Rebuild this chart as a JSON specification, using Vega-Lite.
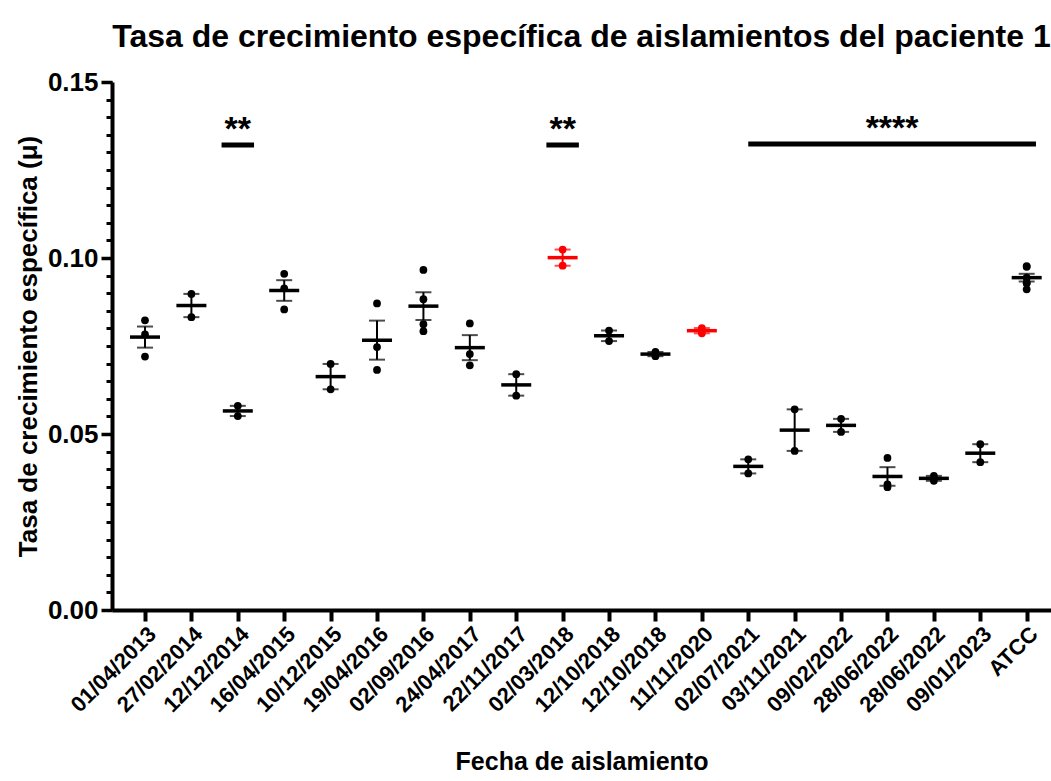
{
  "$schema": "https://vega.github.io/schema/vega-lite/v6.json",
  "width": 939,
  "height": 528,
  "autosize": {"type": "none"},
  "padding": {"left": 112, "top": 82, "right": 0, "bottom": 171},
  "background": "white",
  "config": {
    "view": {"stroke": null},
    "font": "Liberation Sans",
    "axis": {"grid": false, "domainColor": "black", "tickColor": "black", "labelColor": "black", "titleColor": "black", "labelFont": "Liberation Sans", "titleFont": "Liberation Sans", "labelFontWeight": "bold", "titleFontWeight": "bold"}
  },
  "title": {
    "text": "Tasa de crecimiento específica de aislamientos del paciente 1",
    "font": "Liberation Sans",
    "fontSize": 32,
    "fontWeight": "bold",
    "color": "black",
    "anchor": "middle",
    "offset": 15
  },
  "datasets": {
    "mu": [
      {"id": 1, "fecha": "01/04/2013", "mu": 0.0823}, {"id": 1, "fecha": "01/04/2013", "mu": 0.0783}, {"id": 1, "fecha": "01/04/2013", "mu": 0.0720},
      {"id": 2, "fecha": "27/02/2014", "mu": 0.0898}, {"id": 2, "fecha": "27/02/2014", "mu": 0.0832},
      {"id": 3, "fecha": "12/12/2014", "mu": 0.0580}, {"id": 3, "fecha": "12/12/2014", "mu": 0.0551},
      {"id": 4, "fecha": "16/04/2015", "mu": 0.0955}, {"id": 4, "fecha": "16/04/2015", "mu": 0.0914}, {"id": 4, "fecha": "16/04/2015", "mu": 0.0854},
      {"id": 5, "fecha": "10/12/2015", "mu": 0.0699}, {"id": 5, "fecha": "10/12/2015", "mu": 0.0627},
      {"id": 6, "fecha": "19/04/2016", "mu": 0.0871}, {"id": 6, "fecha": "19/04/2016", "mu": 0.0747}, {"id": 6, "fecha": "19/04/2016", "mu": 0.0682},
      {"id": 7, "fecha": "02/09/2016", "mu": 0.0966}, {"id": 7, "fecha": "02/09/2016", "mu": 0.0883}, {"id": 7, "fecha": "02/09/2016", "mu": 0.0812}, {"id": 7, "fecha": "02/09/2016", "mu": 0.0792},
      {"id": 8, "fecha": "24/04/2017", "mu": 0.0814}, {"id": 8, "fecha": "24/04/2017", "mu": 0.0727}, {"id": 8, "fecha": "24/04/2017", "mu": 0.0695},
      {"id": 9, "fecha": "22/11/2017", "mu": 0.0670}, {"id": 9, "fecha": "22/11/2017", "mu": 0.0609},
      {"id": 10, "fecha": "02/03/2018", "mu": 0.1024}, {"id": 10, "fecha": "02/03/2018", "mu": 0.0978},
      {"id": 11, "fecha": "12/10/2018", "mu": 0.0794}, {"id": 11, "fecha": "12/10/2018", "mu": 0.0764},
      {"id": 12, "fecha": "12/10/2018", "mu": 0.0733}, {"id": 12, "fecha": "12/10/2018", "mu": 0.0721},
      {"id": 13, "fecha": "11/11/2020", "mu": 0.0801}, {"id": 13, "fecha": "11/11/2020", "mu": 0.0786},
      {"id": 14, "fecha": "02/07/2021", "mu": 0.0428}, {"id": 14, "fecha": "02/07/2021", "mu": 0.0388},
      {"id": 15, "fecha": "03/11/2021", "mu": 0.0570}, {"id": 15, "fecha": "03/11/2021", "mu": 0.0452},
      {"id": 16, "fecha": "09/02/2022", "mu": 0.0543}, {"id": 16, "fecha": "09/02/2022", "mu": 0.0506},
      {"id": 17, "fecha": "28/06/2022", "mu": 0.0432}, {"id": 17, "fecha": "28/06/2022", "mu": 0.0357}, {"id": 17, "fecha": "28/06/2022", "mu": 0.0349},
      {"id": 18, "fecha": "28/06/2022", "mu": 0.0381}, {"id": 18, "fecha": "28/06/2022", "mu": 0.0367},
      {"id": 19, "fecha": "09/01/2023", "mu": 0.0471}, {"id": 19, "fecha": "09/01/2023", "mu": 0.0420},
      {"id": 20, "fecha": "ATCC", "mu": 0.0975}, {"id": 20, "fecha": "ATCC", "mu": 0.0977}, {"id": 20, "fecha": "ATCC", "mu": 0.0930}, {"id": 20, "fecha": "ATCC", "mu": 0.0928}, {"id": 20, "fecha": "ATCC", "mu": 0.0911}, {"id": 20, "fecha": "ATCC", "mu": 0.0944}
    ],
    "signif": [
      {"desde": 2.65, "hasta": 3.35, "nivel": 0.1321, "texto": "**"},
      {"desde": 9.65, "hasta": 10.35, "nivel": 0.1321, "texto": "**"},
      {"desde": 14.0, "hasta": 20.2, "nivel": 0.1324, "texto": "****"}
    ]
  },
  "resolve": {"scale": {"y": "independent"}, "axis": {"y": "independent"}},
  "layer": [
    {
      "data": {"name": "mu"},
      "mark": {"type": "errorbar", "extent": "stderr", "orient": "vertical", "thickness": 2, "ticks": {"size": 16, "thickness": 2}},
      "encoding": {
        "x": {"field": "id", "type": "quantitative", "scale": {"domain": [0.289, 20.524], "nice": false, "zero": false},
          "axis": {
            "values": [1, 2, 3, 4, 5, 6, 7, 8, 9, 10, 11, 12, 13, 14, 15, 16, 17, 18, 19, 20],
            "labelExpr": "['01/04/2013','27/02/2014','12/12/2014','16/04/2015','10/12/2015','19/04/2016','02/09/2016','24/04/2017','22/11/2017','02/03/2018','12/10/2018','12/10/2018','11/11/2020','02/07/2021','03/11/2021','09/02/2022','28/06/2022','28/06/2022','09/01/2023','ATCC'][datum.value - 1]",
            "labelAngle": -45,
            "labelAlign": "right",
            "labelBaseline": "top",
            "labelFontSize": 22,
            "labelPadding": 2,
            "labelFlush": false,
            "labelOverlap": false,
            "tickSize": 11,
            "tickWidth": 4,
            "domainWidth": 4,
            "title": "Fecha de aislamiento",
            "titleFontSize": 25,
            "titlePadding": 34
          }
        },
        "y": {"field": "mu", "type": "quantitative", "scale": {"domain": [0, 0.15], "nice": false},
          "axis": {
            "values": [0, 0.05, 0.1, 0.15],
            "format": ".2f",
            "tickSize": 11,
            "tickWidth": 3.5,
            "domainWidth": 4,
            "labelFontSize": 26,
            "labelPadding": 3,
            "labelOverlap": false,
            "labelFlush": false,
            "title": "Tasa de crecimiento específica (μ)",
            "titleFontSize": 26,
            "titlePadding": 6
          }
        },
        "color": {"field": "id", "type": "nominal", "legend": null,
          "scale": {"domain": [1, 2, 3, 4, 5, 6, 7, 8, 9, 10, 11, 12, 13, 14, 15, 16, 17, 18, 19, 20],
            "range": ["black", "black", "black", "black", "black", "black", "black", "black", "black", "red", "black", "black", "red", "black", "black", "black", "black", "black", "black", "black"]}}
      }
    },
    {
      "data": {"name": "mu"},
      "mark": {"type": "tick", "orient": "horizontal", "size": 30, "thickness": 3.5},
      "encoding": {
        "x": {"field": "id", "type": "quantitative"},
        "y": {"field": "mu", "type": "quantitative", "aggregate": "mean", "scale": {"domain": [0, 0.15], "nice": false}, "axis": null},
        "color": {"field": "id", "type": "nominal", "legend": null}
      }
    },
    {
      "data": {"name": "mu"},
      "mark": {"type": "circle", "size": 60, "opacity": 1},
      "encoding": {
        "x": {"field": "id", "type": "quantitative"},
        "y": {"field": "mu", "type": "quantitative", "scale": {"domain": [0, 0.15], "nice": false}, "axis": null},
        "color": {"field": "id", "type": "nominal", "legend": null}
      }
    },
    {
      "data": {"name": "signif"},
      "mark": {"type": "rule", "strokeWidth": 5, "color": "black"},
      "encoding": {
        "x": {"field": "desde", "type": "quantitative"},
        "x2": {"field": "hasta"},
        "y": {"field": "nivel", "type": "quantitative", "scale": {"domain": [0, 0.15], "nice": false},
          "axis": {
            "values": [0, 0.005, 0.01, 0.015, 0.02, 0.025, 0.03, 0.035, 0.04, 0.045, 0.05, 0.055, 0.06, 0.065, 0.07, 0.075, 0.08, 0.085, 0.09, 0.095, 0.1, 0.105, 0.11, 0.115, 0.12, 0.125, 0.13, 0.135, 0.14, 0.145, 0.15],
            "labels": false,
            "domain": false,
            "tickSize": 6,
            "tickWidth": 3,
            "title": null,
            "orient": "left"
          }
        }
      }
    },
    {
      "data": {"name": "signif"},
      "transform": [{"calculate": "(datum.desde + datum.hasta) / 2", "as": "centro"}],
      "mark": {"type": "text", "fontSize": 34, "fontWeight": "bold", "font": "Liberation Sans", "color": "black", "baseline": "bottom", "dy": 2},
      "encoding": {
        "x": {"field": "centro", "type": "quantitative"},
        "y": {"field": "nivel", "type": "quantitative", "scale": {"domain": [0, 0.15], "nice": false}, "axis": null},
        "text": {"field": "texto"}
      }
    }
  ]
}
